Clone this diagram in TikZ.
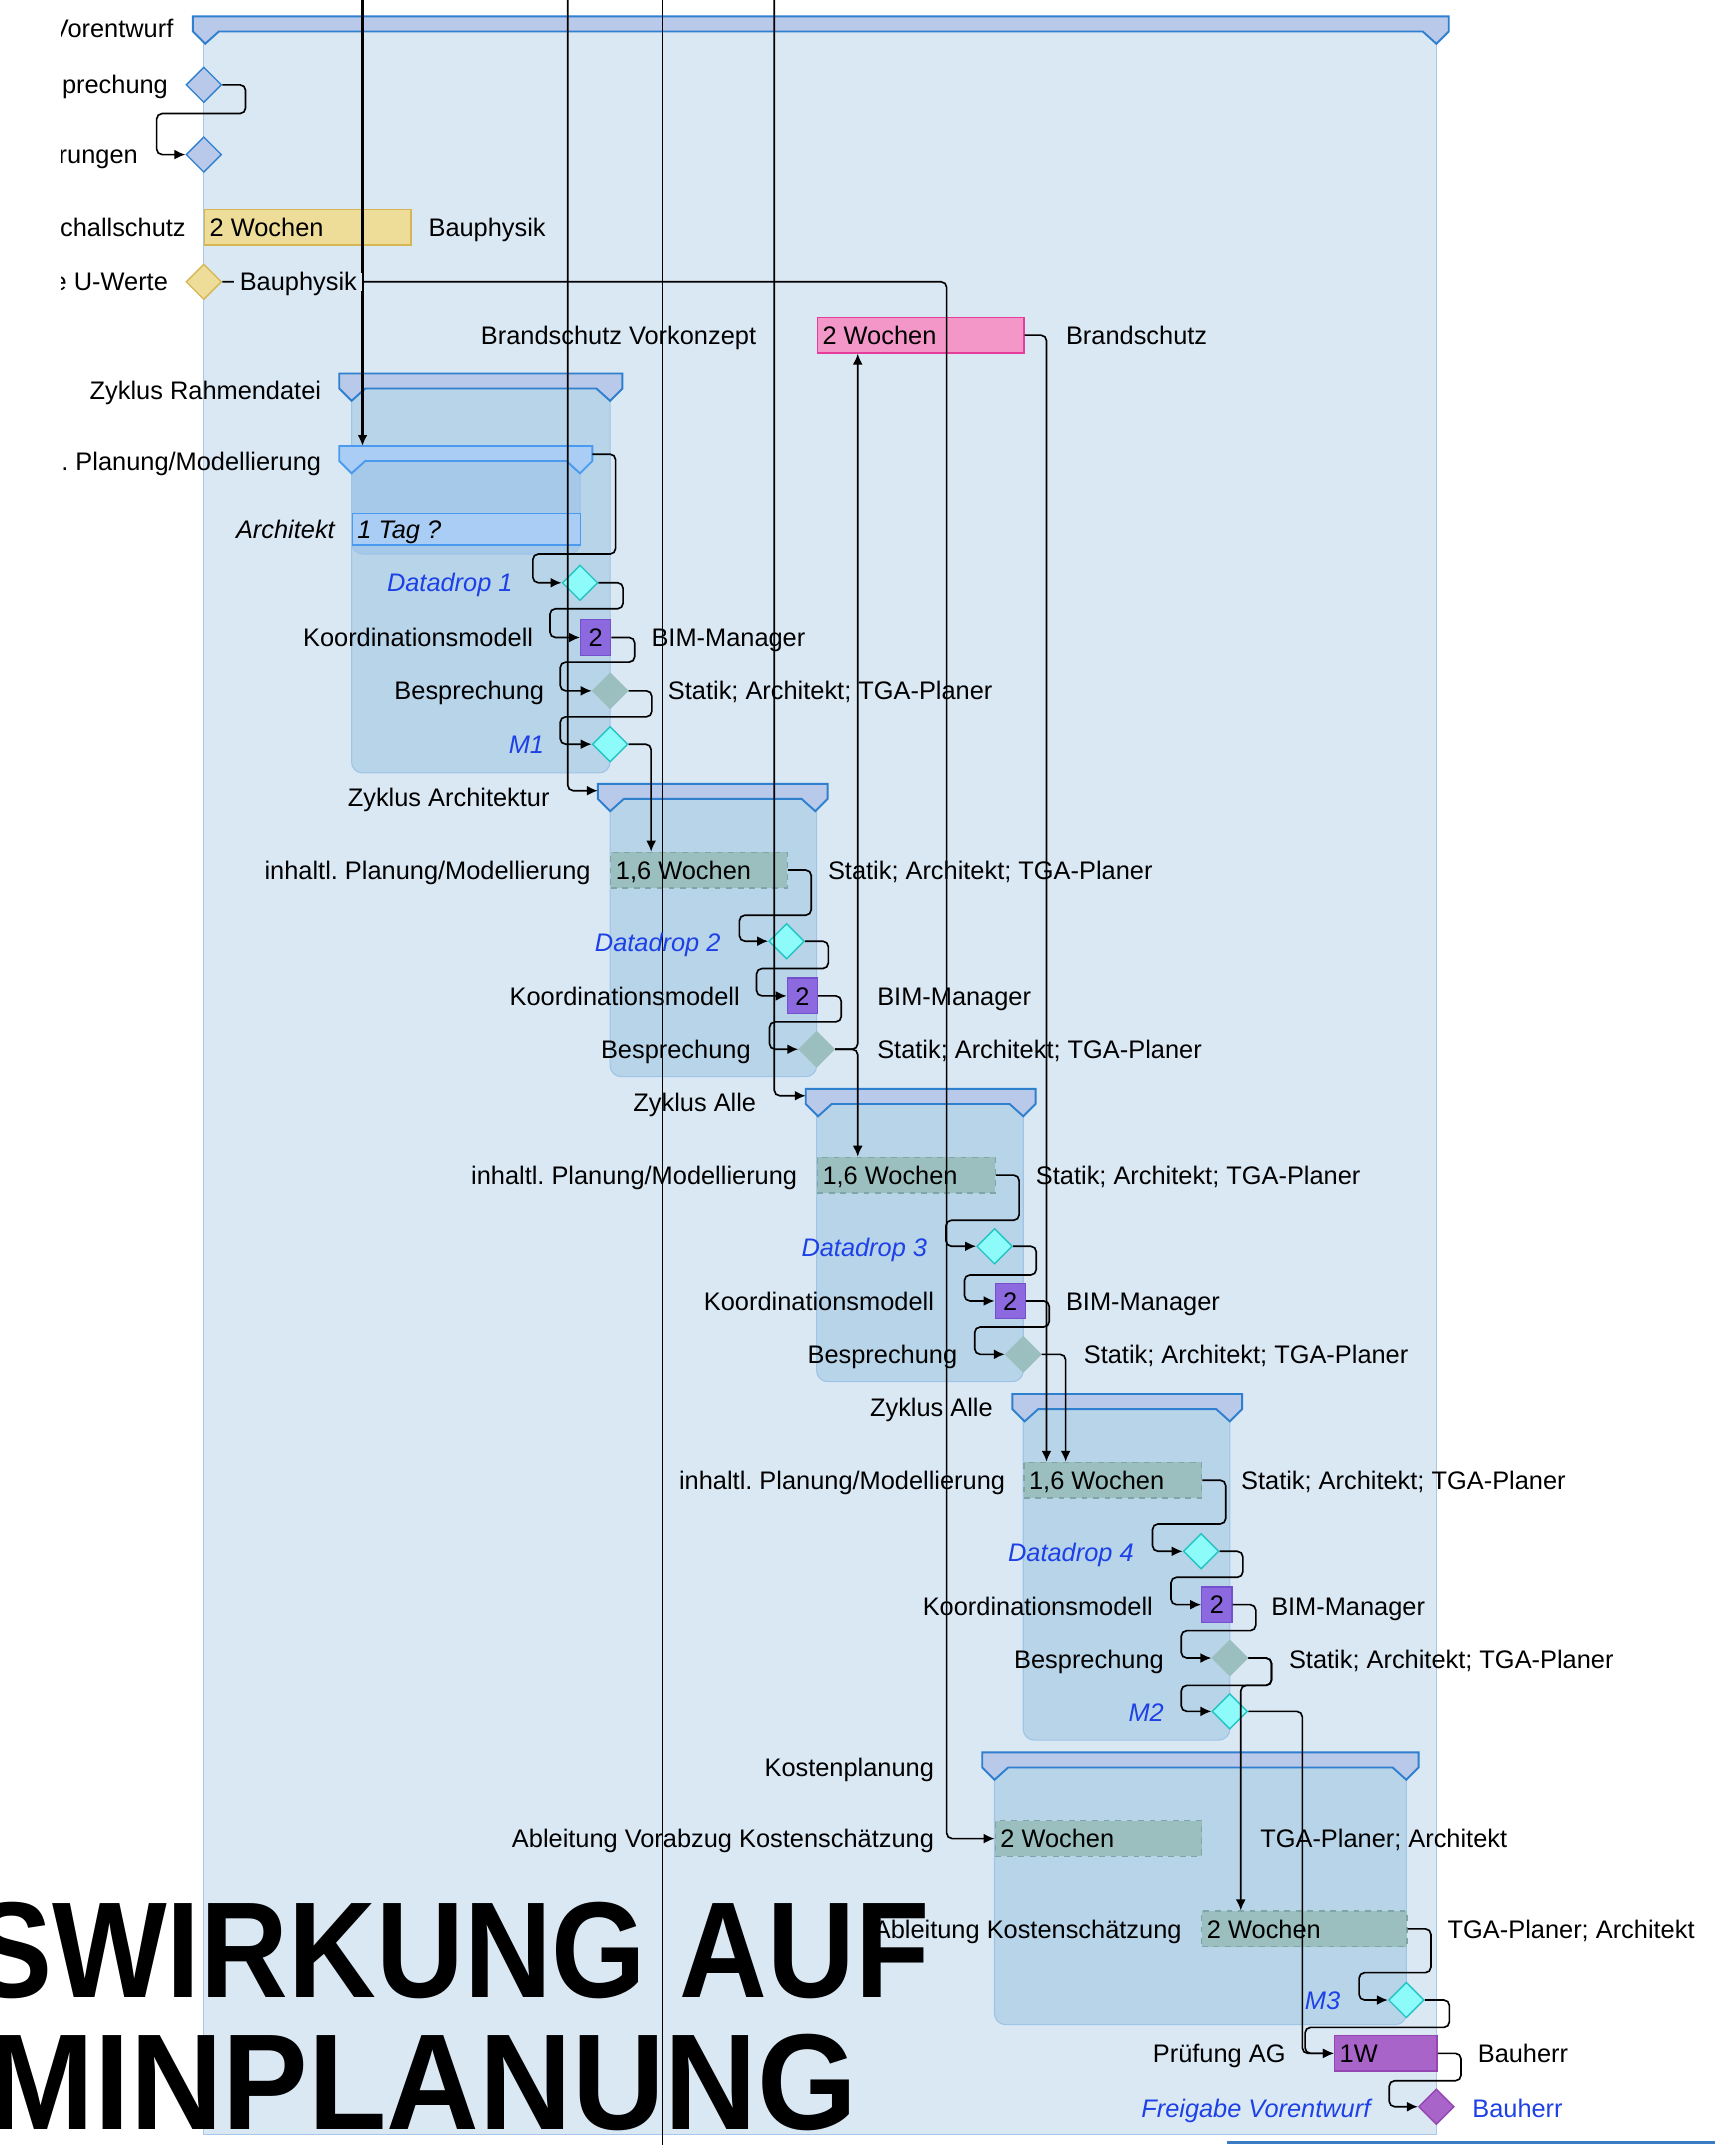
\documentclass[tikz,border=0pt]{standalone}
\usepackage{fontspec}
\setmainfont{Liberation Sans}
\usetikzlibrary{shapes.geometric,arrows.meta,calc}
\frenchspacing

\definecolor{panelfill}{HTML}{DAE8F4}
\definecolor{panelline}{HTML}{A7C8E8}
\definecolor{sumfill}{HTML}{B9C9EA}
\definecolor{sumline}{HTML}{2F7FCF}
\definecolor{grpfill}{HTML}{B8D4E8}
\definecolor{grpline}{HTML}{9FC4E6}
\definecolor{plfill}{HTML}{A9CDF4}
\definecolor{plline}{HTML}{4A9BEF}
\definecolor{plgrp}{HTML}{A6C8E9}
\definecolor{tealfill}{HTML}{9BBFBF}
\definecolor{tealline}{HTML}{7FA6A6}
\definecolor{cyanfill}{HTML}{8EFBFB}
\definecolor{cyanline}{HTML}{22C3C3}
\definecolor{purpfill}{HTML}{8D69E0}
\definecolor{purpline}{HTML}{7450CF}
\definecolor{violfill}{HTML}{A864C8}
\definecolor{violline}{HTML}{9446B2}
\definecolor{pinkfill}{HTML}{F397C9}
\definecolor{pinkline}{HTML}{E63D9D}
\definecolor{yelfill}{HTML}{EEDD98}
\definecolor{yelline}{HTML}{D6B652}
\definecolor{msblue}{HTML}{1D41E6}
\definecolor{rulblue}{HTML}{3A7CC4}

\newcommand{\lblfont}{\fontsize{13.2}{15}\selectfont}

\begin{document}
\begin{tikzpicture}[x=0.25mm, y=-0.25mm, font=\lblfont,
  txt/.style={text height=9.5pt, text depth=0pt},
  lbr/.style={txt, anchor=east, inner sep=0pt},
  lbl/.style={txt, anchor=west, inner sep=0pt},
  mile/.style={lbr, text=msblue, font=\lblfont\itshape},
  task/.style={draw, line width=0.25mm, minimum height=6.5mm, inner sep=0pt, anchor=west,
    label={[txt, anchor=west, inner sep=1mm]west:#1}},
  ttask/.style={fill=tealfill, draw=tealline, dashed},
  kbox/.style={txt, draw=purpline, fill=purpfill, line width=0.25mm, minimum height=6.5mm,
    minimum width=5.5mm, inner sep=0pt, anchor=west},
  dia/.style={diamond, aspect=1, draw, line width=0.25mm, minimum width=6.5mm,
    minimum height=6.5mm, inner sep=0pt},
  dd/.style={dia, fill=cyanfill, draw=cyanline},
  bsp/.style={dia, fill=tealfill, draw=tealfill},
  conn/.style={line width=0.3mm, rounded corners=1mm, -{Latex[length=2mm,width=1.8mm]}},
  thru/.style={line width=0.2mm},
  sumbar/.style={draw=sumline, fill=sumfill, line width=0.35mm},
  grp/.style={draw=grpline, fill=grpfill, line width=0.2mm, rounded corners=2mm}]

\useasboundingbox (0,0) rectangle (1254,1568);

\begin{scope}
\clip (45,0) rectangle (1254,1568);

% Vorentwurf
\draw[draw=panelline, fill=panelfill, line width=0.2mm] (149,23) rectangle (1050,1560);

% Zyklen
\foreach \xa/\xb/\yt/\yb in {257/446/284/565, 446/597/584/787, 597/748/807/1010, 748/899/1030/1272, 727/1028/1292/1480}
  \draw[grp] (\xa,\yt) rectangle (\xb,\yb);
\draw[grp, fill=plgrp] (257,337) rectangle (424,405);

\foreach \xa/\xb/\yt in {141/1059/12, 248/455/273, 437/605/573, 589/757/796, 740/908/1019, 718/1037/1281}
  \draw[sumbar] (\xa,\yt) -- (\xb,\yt) -- (\xb,\yt+11) -- (\xb-9,\yt+20) -- (\xb-19,\yt+11)
    -- (\xa+19,\yt+11) -- (\xa+9,\yt+20) -- (\xa,\yt+11) -- cycle;
\draw[sumbar, fill=plfill, draw=plline] (248,326) -- (433,326) -- (433,337) -- (424,346) -- (414,337)
  -- (267,337) -- (257,346) -- (248,337) -- cycle;

\coordinate (pltop) at (265,326);
\coordinate (plb) at (433,332);
\coordinate (zarch) at (437,578);
\coordinate (zalle) at (589,801);
\coordinate (t265) at (265,0);
\coordinate (t415) at (415,0);
\coordinate (t484) at (484,0);
\coordinate (b484) at (484,1568);
\coordinate (t566) at (566,0);

% Vorgaenge
\node[dia, fill=sumfill, draw=sumline] (bsv) at (149,62) {};
\node[dia, fill=sumfill, draw=sumline] (anf) at (149,113) {};
\node[task={2 Wochen}, fill=yelfill, draw=yelline, minimum width=37.75mm] (sch) at (149,166) {};
\node[dia, fill=yelfill, draw=yelline] (uw) at (149,206) {};
\node[task={2 Wochen}, fill=pinkfill, draw=pinkline, minimum width=37.75mm] (brs) at (597,245) {};
\node[task={\itshape 1 Tag ?}, fill=plfill, draw=plline, minimum width=41.75mm, minimum height=5.75mm] (arch) at (257,387) {};
\node[dd] (dd1) at (424,426) {};
\node[kbox] (km1) at (424,466) {2};
\node[bsp] (bs1) at (446,505) {};
\node[dd] (m1) at (446,544) {};
\node[task={1,6 Wochen}, ttask, minimum width=32.25mm] (pl2) at (446,636) {};
\node[dd] (dd2) at (575,688) {};
\node[kbox] (km2) at (575,728) {2};
\node[bsp] (bs2) at (597,767) {};
\node[task={1,6 Wochen}, ttask, minimum width=32.5mm] (pl3) at (597,859) {};
\node[dd] (dd3) at (727,911) {};
\node[kbox] (km3) at (727,951) {2};
\node[bsp] (bs3) at (748,990) {};
\node[task={1,6 Wochen}, ttask, minimum width=32.5mm] (pl4) at (748,1082) {};
\node[dd] (dd4) at (878,1134) {};
\node[kbox] (km4) at (878,1173) {2};
\node[bsp] (bs4) at (899,1212) {};
\node[dd] (m2) at (899,1251) {};
\node[task={2 Wochen}, ttask, minimum width=37.75mm] (kv) at (727,1344) {};
\node[task={2 Wochen}, ttask, minimum width=37.5mm] (ks) at (878,1410) {};
\node[dd] (m3) at (1028,1462) {};
\node[task=1W, fill=violfill, draw=violline, minimum width=18.75mm] (pag) at (975,1501) {};
\node[dia, fill=violfill, draw=violline] (fv) at (1050,1540) {};

% durchlaufende Linien
\draw[conn, line width=0.5mm] (t265) -- (pltop);
\draw[conn] (t415) |- (zarch);
\draw[thru] (t484) -- (b484);
\draw[conn] (t566) |- (zalle);

% Abhaengigkeiten
\draw[conn] (bsv.east) -- ++(17,0) |- ($(anf.west)+(-21,-30)$) |- (anf.west);
\draw[conn] (uw.east) -| ($(kv.west)+(-35,0)$) -- (kv.west);
\draw[conn] (plb) -- ++(17,0) |- ($(dd1.west)+(-21,-21)$) |- (dd1.west);
\draw[conn] (dd1.east) -- ++(18,0) |- ($(km1.west)+(-22,-21)$) |- (km1.west);
\draw[conn] (km1.east) -- ++(17,0) |- ($(bs1.west)+(-23,-21)$) |- (bs1.west);
\draw[conn] (bs1.east) -- ++(17,0) |- ($(m1.west)+(-23,-20)$) |- (m1.west);
\draw[conn] (m1.east) -| ($(pl2.north west)+(30,0)$);
\draw[conn] (pl2.east) -- ++(17,0) |- ($(dd2.west)+(-21,-19)$) |- (dd2.west);
\draw[conn] (dd2.east) -- ++(17,0) |- ($(km2.west)+(-22,-20)$) |- (km2.west);
\draw[conn] (km2.east) -- ++(17,0) |- ($(bs2.west)+(-21,-20)$) |- (bs2.west);
\draw[conn] (bs2.east) -| ($(brs.south west)+(30,0)$);
\draw[conn] (bs2.east) -| ($(pl3.north west)+(30,0)$);
\draw[conn] (pl3.east) -- ++(17,0) |- ($(dd3.west)+(-22,-19)$) |- (dd3.west);
\draw[conn] (dd3.east) -- ++(17,0) |- ($(km3.west)+(-22,-19)$) |- (km3.west);
\draw[conn] (km3.east) -- ++(17,0) |- ($(bs3.west)+(-22,-20)$) |- (bs3.west);
\draw[conn] (bs3.east) -| ($(pl4.north west)+(31,0)$);
\draw[conn] (brs.east) -| ($(pl4.north west)+(17,0)$);
\draw[conn] (pl4.east) -- ++(17,0) |- ($(dd4.west)+(-22,-20)$) |- (dd4.west);
\draw[conn] (dd4.east) -- ++(17,0) |- ($(km4.west)+(-22,-20)$) |- (km4.west);
\draw[conn] (km4.east) -- ++(17,0) |- ($(bs4.west)+(-22,-20)$) |- (bs4.west);
\draw[conn] (bs4.east) -- ++(17,0) |- ($(m2.west)+(-22,-19)$) |- (m2.west);
\draw[conn] (bs4.east) -- ++(17,0) -- ++(0,20) -| ($(ks.north west)+(29,0)$);
\draw[conn] (m2.east) -| ($(pag.west)+(-23,0)$) -- (pag.west);
\draw[conn] (ks.east) -- ++(17,0) |- ($(m3.west)+(-21,-20)$) |- (m3.west);
\draw[conn] (m3.east) -- ++(18,0) |- ($(pag.west)+(-21,-19)$) |- (pag.west);
\draw[conn] (pag.east) -- ++(17,0) |- ($(fv.west)+(-21,-19)$) |- (fv.west);

% Beschriftung links
\node[lbr] (lvor) at (127,21) {Vorentwurf};
\node[lbr] (lbsv) at (123,62) {Besprechung};
\node[lbr] (lanf) at (101,113) {rungen};
\node[lbr] (lsch) at (136,166) {Schallschutz};
\node[lbr] (luw) at (123,206) {e U-Werte};
\node[lbr] (lbrs) at (553,245) {Brandschutz Vorkonzept};
\node[lbr] (lzr) at (235,285) {Zyklus Rahmendatei};
\node[lbr] (lpl1) at (235,337) {inhaltl. Planung/Modellierung};
\node[lbr, font=\lblfont\itshape] (larch) at (245,387) {Architekt};
\node[mile] (ldd1) at (375,426) {Datadrop 1};
\node[lbr] (lkm1) at (390,466) {Koordinationsmodell};
\node[lbr] (lbs1) at (398,505) {Besprechung};
\node[mile] (lm1) at (398,544) {M1};
\node[lbr] (lza) at (402,583) {Zyklus Architektur};
\node[lbr] (lpl2) at (432,636) {inhaltl. Planung/Modellierung};
\node[mile] (ldd2) at (527,689) {Datadrop 2};
\node[lbr] (lkm2) at (541,728) {Koordinationsmodell};
\node[lbr] (lbs2) at (549,767) {Besprechung};
\node[lbr] (lzal1) at (553,806) {Zyklus Alle};
\node[lbr] (lpl3) at (583,859) {inhaltl. Planung/Modellierung};
\node[mile] (ldd3) at (678,912) {Datadrop 3};
\node[lbr] (lkm3) at (683,951) {Koordinationsmodell};
\node[lbr] (lbs3) at (700,990) {Besprechung};
\node[lbr] (lzal2) at (726,1029) {Zyklus Alle};
\node[lbr] (lpl4) at (735,1082) {inhaltl. Planung/Modellierung};
\node[mile] (ldd4) at (829,1135) {Datadrop 4};
\node[lbr] (lkm4) at (843,1174) {Koordinationsmodell};
\node[lbr] (lbs4) at (851,1213) {Besprechung};
\node[mile] (lm2) at (851,1252) {M2};
\node[lbr] (lkp) at (683,1292) {Kostenplanung};
\node[lbr] (lkv) at (683,1344) {Ableitung Vorabzug Kostenschätzung};
\node[lbr] (lks) at (864,1410) {Ableitung Kostenschätzung};
\node[mile] (lm3) at (980,1462) {M3};
\node[lbr] (lpag) at (940,1501) {Prüfung AG};
\node[mile] (lfv) at (1002,1541) {Freigabe Vorentwurf};

% Beschriftung rechts
\node[lbl] (rsch) at (313,166) {Bauphysik};
\node[lbl, fill=panelfill, inner xsep=1mm] (ruw) at (171,206) {Bauphysik};
\node[lbl] (rbrs) at (779,245) {Brandschutz};
\node[lbl] (rkm1) at (476,466) {BIM-Manager};
\node[lbl] (rbs1) at (488,505) {Statik; Architekt; TGA-Planer};
\node[lbl] (rpl2) at (605,636) {Statik; Architekt; TGA-Planer};
\node[lbl] (rkm2) at (641,728) {BIM-Manager};
\node[lbl] (rbs2) at (641,767) {Statik; Architekt; TGA-Planer};
\node[lbl] (rpl3) at (757,859) {Statik; Architekt; TGA-Planer};
\node[lbl] (rkm3) at (779,951) {BIM-Manager};
\node[lbl] (rbs3) at (792,990) {Statik; Architekt; TGA-Planer};
\node[lbl] (rpl4) at (907,1082) {Statik; Architekt; TGA-Planer};
\node[lbl] (rkm4) at (929,1174) {BIM-Manager};
\node[lbl] (rbs4) at (942,1213) {Statik; Architekt; TGA-Planer};
\node[lbl] (rkv) at (921,1344) {TGA-Planer; Architekt};
\node[lbl] (rks) at (1058,1410) {TGA-Planer; Architekt};
\node[lbl] (rpag) at (1080,1501) {Bauherr};
\node[lbl, text=msblue] (rfv) at (1076,1541) {Bauherr};
\end{scope}

\draw[rulblue, line width=0.5mm] (897,1566) -- (1254,1566);

% Titel
\node[anchor=base east, inner sep=0pt, font=\fontsize{71}{71}\selectfont\bfseries] (tit1) at (680,1460) {\scalebox{0.89}[1]{SWIRKUNG AUF}};
\node[anchor=base east, inner sep=0pt, font=\fontsize{71}{71}\selectfont\bfseries] (tit2) at (627,1557) {\scalebox{0.94}[1]{MINPLANUNG}};

\end{tikzpicture}
\end{document}
